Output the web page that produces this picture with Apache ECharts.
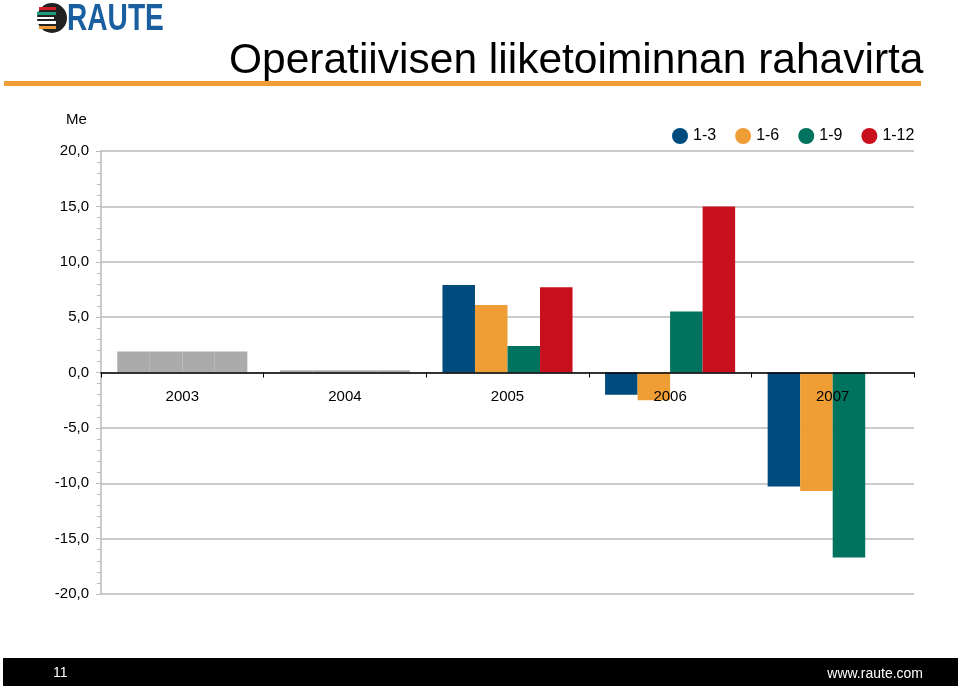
<!DOCTYPE html>
<html>
<head>
<meta charset="utf-8">
<script src="https://cdn.jsdelivr.net/npm/echarts@6/dist/echarts.min.js"></script>
<style>
  html, body { margin: 0; padding: 0; background: #fff; }
  #chart { width: 960px; height: 686px; }
</style>
</head>
<body>
<div id="chart"></div>
<script>
// vuodet
var years = ['2003', '2004', '2005', '2006', '2007']

// kumulatiivinen kassavirta, Me
var q1 = [1.9, 0.2, 7.9, -2.0, -10.3]
var h1 = [1.9, 0.2, 6.1, -2.5, -10.7]
var q3 = [1.9, 0.2, 2.4, 5.5, -16.7]
var fy = [1.9, 0.2, 7.7, 15.0, null]

var seriesNames = ['1-3', '1-6', '1-9', '1-12']
var colors = ['#004b7d', '#ef9e35', '#00735e', '#c80f1d']
var grayYears = ['2003', '2004']   // vanhat vuodet harmaalla

var font = 'Liberation Sans, Arial, sans-serif'

var gridTop = 151, gridBottom = 92, chartH = 686

function buildData(values) {
    return values.map(function (v, i) {
        if (grayYears.indexOf(years[i]) >= 0) {
            return { value: v, itemStyle: { color: '#ababab' } }
        }
        return v
    })
}

var allValues = [q1, h1, q3, fy]
var series = allValues.map(function (vals, i) {
    return {
        name: seriesNames[i],
        type: 'bar',
        data: buildData(vals),
        itemStyle: { color: colors[i] },
        barGap: '0%',
        barCategoryGap: '20%',
        animation: false
    }
})

// x-akseli nollatasolle (y-asteikko on symmetrinen -20..20)
var zeroOffset = -(chartH - gridTop - gridBottom) / 2

var chart = echarts.init(document.getElementById('chart'))

chart.setOption({
    backgroundColor: '#fff',
    textStyle: { fontFamily: font },
    graphic: [
        // logo
        { type: 'circle', shape: { cx: 52, cy: 18, r: 15 }, style: { fill: '#222' } },
        { type: 'rect', shape: { x: 39, y: 7, width: 17, height: 3 }, style: { fill: '#d0202a' } },
        { type: 'rect', shape: { x: 37, y: 12, width: 19, height: 3 }, style: { fill: '#1f9a7a' } },
        { type: 'rect', shape: { x: 37, y: 17, width: 17, height: 2 }, style: { fill: '#ffffff' } },
        { type: 'rect', shape: { x: 37, y: 21, width: 19, height: 3 }, style: { fill: '#ffffff' } },
        { type: 'rect', shape: { x: 39, y: 26, width: 17, height: 3 }, style: { fill: '#ef9e35' } },
        {
            type: 'text', x: 67, y: 1, scaleX: 0.76,
            style: { text: 'RAUTE', fill: '#1a5fa0', font: 'bold 37px "Liberation Sans", Arial, sans-serif' }
        },
        // otsikko
        {
            type: 'text', left: 229, top: 40,
            style: { text: 'Operatiivisen liiketoiminnan rahavirta', fill: '#000', font: '42.5px ' + font }
        },
        { type: 'rect', shape: { x: 4, y: 81, width: 917, height: 5 }, style: { fill: '#ef9e35' } },
        {
            type: 'text', left: 66, top: 112,
            style: { text: 'Me', fill: '#000', font: '15px ' + font }
        },
        // alapalkki
        { type: 'rect', shape: { x: 3, y: 658, width: 955, height: 28 }, style: { fill: '#000' } },
        {
            type: 'text', left: 53, top: 666,
            style: { text: '11', fill: '#fff', font: '14px "Liberation Sans Narrow", sans-serif' }
        },
        {
            type: 'text', right: 37, top: 667,
            style: { text: 'www.raute.com', fill: '#fff', font: '14px "Liberation Sans Narrow", sans-serif' }
        }
    ],
    legend: {
        data: seriesNames,
        left: 667,
        top: 123,
        icon: 'circle',
        itemWidth: 16,
        itemHeight: 16,
        itemGap: 19,
        textStyle: { fontSize: 16, color: '#000', fontFamily: font }
    },
    grid: { left: 101, right: 46, top: gridTop, bottom: gridBottom },
    xAxis: {
        type: 'category',
        data: years,
        position: 'bottom',
        offset: zeroOffset,
        z: 5,
        axisLine: { onZero: false, lineStyle: { color: '#000', width: 1.5 } },
        axisTick: { show: true, length: 5, lineStyle: { color: '#000' } },
        axisLabel: { fontSize: 15, color: '#000', margin: 17, fontFamily: font },
        splitLine: { show: false }
    },
    yAxis: {
        type: 'value',
        min: -20,
        max: 20,
        interval: 5,
        axisLine: { show: true, lineStyle: { color: '#bbb', width: 1.5 } },
        axisTick: { show: true, length: 5, lineStyle: { color: '#bbb' } },
        minorTick: { show: true, splitNumber: 5, length: 4, lineStyle: { color: '#bbb' } },
        axisLabel: {
            fontSize: 15,
            color: '#000',
            margin: 12,
            fontFamily: font,
            formatter: function (v) { return v.toFixed(1).replace('.', ',') }
        },
        splitLine: { show: true, lineStyle: { color: '#bbb', width: 1.5 } }
    },
    series: series
})
</script>
</body>
</html>
